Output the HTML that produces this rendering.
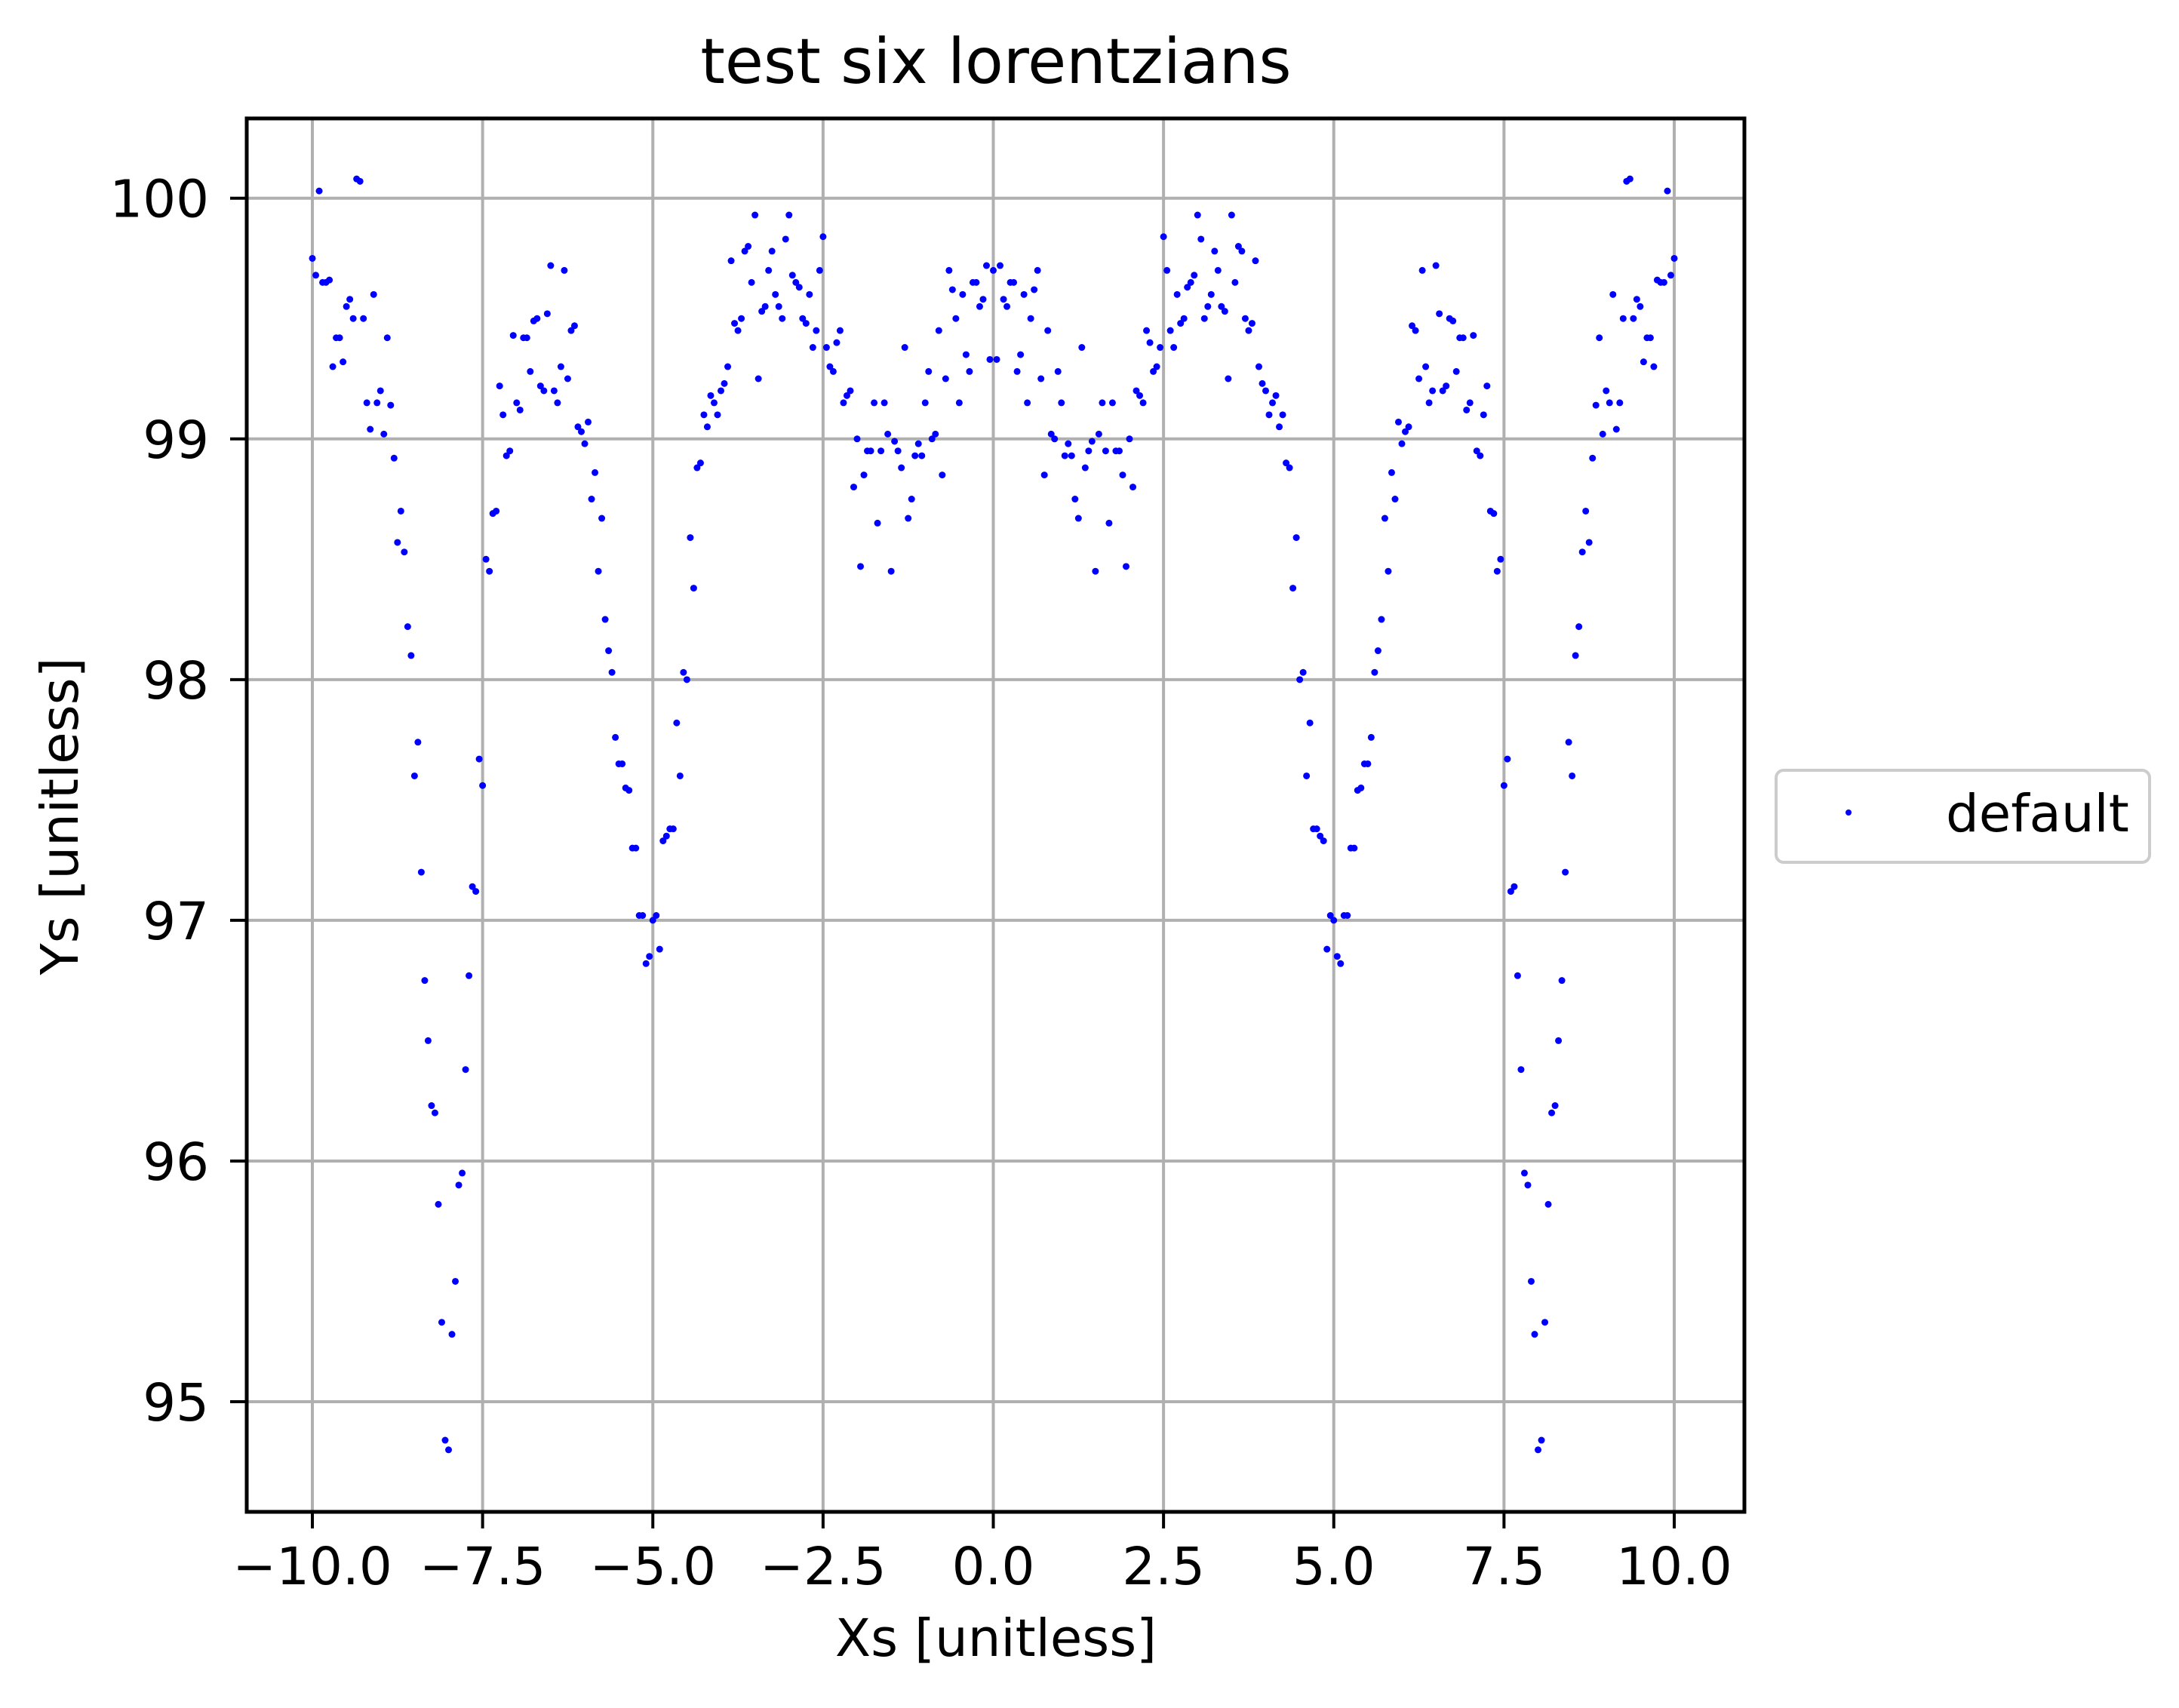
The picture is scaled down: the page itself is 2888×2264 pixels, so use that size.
<!DOCTYPE html>
<html><head><meta charset="utf-8"><style>
html,body{margin:0;padding:0;background:#fff;}
svg{display:block;font-family:"DejaVu Sans","Liberation Sans",sans-serif;}
</style></head><body>
<svg id="chart" width="2888" height="2264" viewBox="0 0 2888 2264">
<rect width="2888" height="2264" fill="#fff"/>
<g id="grid"></g>
<g id="points"></g>
<rect x="327" y="157" width="1985" height="1847" fill="none" stroke="#000" stroke-width="5"/>
<g id="ticks"></g>
<text x="1320" y="110" font-size="83" text-anchor="middle">test six lorentzians</text>
<text x="1320" y="2195" font-size="69" text-anchor="middle">Xs [unitless]</text>
<text transform="translate(103,1082) rotate(-90)" font-size="69" text-anchor="middle">Ys [unitless]</text>
<g>
<rect x="2354" y="1021" width="495" height="122" rx="10" fill="#fff" stroke="#ccc" stroke-width="4"/>
<circle cx="2450" cy="1077" r="4" fill="#0000ff"/>
<text x="2579" y="1102" font-size="69">default</text>
</g>
</svg>
<script>
const xTicks=[-10,-7.5,-5,-2.5,0,2.5,5,7.5,10];
const xTickLabels=["\u221210.0","\u22127.5","\u22125.0","\u22122.5","0.0","2.5","5.0","7.5","10.0"];
const yTicks=[95,96,97,98,99,100];
const yTickLabels=["95","96","97","98","99","100"];
const xs=[-10.0,-9.9,-9.8,-9.7,-9.6,-9.5,-9.4,-9.3,-9.2,-9.1,-9.0,-8.9,-8.8,-8.7,-8.6,-8.5,-8.4,-8.3,-8.2,-8.1,-8.0,-7.9,-7.8,-7.7,-7.6,-7.5,-7.4,-7.3,-7.2,-7.1,-7.0,-6.9,-6.8,-6.7,-6.6,-6.5,-6.4,-6.3,-6.2,-6.1,-6.0,-5.9,-5.8,-5.7,-5.6,-5.5,-5.4,-5.3,-5.2,-5.1,-5.0,-4.9,-4.8,-4.7,-4.6,-4.5,-4.4,-4.3,-4.2,-4.1,-4.0,-3.9,-3.8,-3.7,-3.6,-3.5,-3.4,-3.3,-3.2,-3.1,-3.0,-2.9,-2.8,-2.7,-2.6,-2.5,-2.4,-2.3,-2.2,-2.1,-2.0,-1.9,-1.8,-1.7,-1.6,-1.5,-1.4,-1.3,-1.2,-1.1,-1.0,-0.9,-0.8,-0.7,-0.6,-0.5,-0.4,-0.3,-0.2,-0.1,0.0,0.1,0.2,0.3,0.4,0.5,0.6,0.7,0.8,0.9,1.0,1.1,1.2,1.3,1.4,1.5,1.6,1.7,1.8,1.9,2.0,2.1,2.2,2.3,2.4,2.5,2.6,2.7,2.8,2.9,3.0,3.1,3.2,3.3,3.4,3.5,3.6,3.7,3.8,3.9,4.0,4.1,4.2,4.3,4.4,4.5,4.6,4.7,4.8,4.9,5.0,5.1,5.2,5.3,5.4,5.5,5.6,5.7,5.8,5.9,6.0,6.1,6.2,6.3,6.4,6.5,6.6,6.7,6.8,6.9,7.0,7.1,7.2,7.3,7.4,7.5,7.6,7.7,7.8,7.9,8.0,8.1,8.2,8.3,8.4,8.5,8.6,8.7,8.8,8.9,9.0,9.1,9.2,9.3,9.4,9.5,9.6,9.7,9.8,9.9,10.0];
const ys=[99.75,100.03,99.65,99.3,99.42,99.55,99.5,100.07,99.15,99.6,99.2,99.42,98.92,98.7,98.22,97.6,97.2,96.5,96.2,95.33,94.8,95.5,95.95,96.77,97.12,97.56,98.45,98.7,99.1,98.95,99.15,99.42,99.28,99.5,99.2,99.72,99.15,99.7,99.45,99.05,98.98,98.75,98.45,98.25,98.03,97.65,97.55,97.3,97.02,96.82,97.0,96.88,97.35,97.38,97.6,98.0,98.38,98.9,99.05,99.15,99.2,99.3,99.48,99.5,99.8,99.93,99.53,99.7,99.6,99.5,99.93,99.65,99.5,99.6,99.45,99.84,99.3,99.4,99.15,99.2,99.0,98.85,98.95,98.65,99.15,98.45,98.95,99.38,98.75,98.98,99.15,99.0,99.45,99.25,99.62,99.15,99.35,99.65,99.55,99.72,99.7,99.72,99.55,99.65,99.35,99.15,99.62,99.25,99.45,99.0,99.15,98.98,98.75,99.38,98.95,98.45,99.15,98.65,98.95,98.85,99.0,99.2,99.15,99.4,99.3,99.84,99.45,99.6,99.5,99.65,99.93,99.5,99.6,99.7,99.53,99.93,99.8,99.5,99.48,99.3,99.2,99.15,99.05,98.9,98.38,98.0,97.6,97.38,97.35,96.88,97.0,96.82,97.02,97.3,97.55,97.65,98.03,98.25,98.45,98.75,98.98,99.05,99.45,99.7,99.15,99.72,99.2,99.5,99.28,99.42,99.15,98.95,99.1,98.7,98.45,97.56,97.12,96.77,95.95,95.5,94.8,95.33,96.2,96.5,97.2,97.6,98.22,98.7,98.92,99.42,99.2,99.6,99.15,100.07,99.5,99.55,99.42,99.3,99.65,100.03,99.75];
const xsB=[-9.95,-9.85,-9.75,-9.65,-9.55,-9.45,-9.35,-9.25,-9.15,-9.05,-8.95,-8.85,-8.75,-8.65,-8.55,-8.45,-8.35,-8.25,-8.15,-8.05,-7.95,-7.85,-7.75,-7.65,-7.55,-7.45,-7.35,-7.25,-7.15,-7.05,-6.95,-6.85,-6.75,-6.65,-6.55,-6.45,-6.35,-6.25,-6.15,-6.05,-5.95,-5.85,-5.75,-5.65,-5.55,-5.45,-5.35,-5.25,-5.15,-5.05,-4.95,-4.85,-4.75,-4.65,-4.55,-4.45,-4.35,-4.25,-4.15,-4.05,-3.95,-3.85,-3.75,-3.65,-3.55,-3.45,-3.35,-3.25,-3.15,-3.05,-2.95,-2.85,-2.75,-2.65,-2.55,-2.45,-2.35,-2.25,-2.15,-2.05,-1.95,-1.85,-1.75,-1.65,-1.55,-1.45,-1.35,-1.25,-1.15,-1.05,-0.95,-0.85,-0.75,-0.65,-0.55,-0.45,-0.35,-0.25,-0.15,-0.05,0.05,0.15,0.25,0.35,0.45,0.55,0.65,0.75,0.85,0.95,1.05,1.15,1.25,1.35,1.45,1.55,1.65,1.75,1.85,1.95,2.05,2.15,2.25,2.35,2.45,2.55,2.65,2.75,2.85,2.95,3.05,3.15,3.25,3.35,3.45,3.55,3.65,3.75,3.85,3.95,4.05,4.15,4.25,4.35,4.45,4.55,4.65,4.75,4.85,4.95,5.05,5.15,5.25,5.35,5.45,5.55,5.65,5.75,5.85,5.95,6.05,6.15,6.25,6.35,6.45,6.55,6.65,6.75,6.85,6.95,7.05,7.15,7.25,7.35,7.45,7.55,7.65,7.75,7.85,7.95,8.05,8.15,8.25,8.35,8.45,8.55,8.65,8.75,8.85,8.95,9.05,9.15,9.25,9.35,9.45,9.55,9.65,9.75,9.85,9.95];
const ysB=[99.68,99.65,99.66,99.42,99.32,99.58,100.08,99.5,99.04,99.15,99.02,99.14,98.57,98.53,98.1,97.74,96.75,96.23,95.82,94.84,95.28,95.9,96.38,97.14,97.67,98.5,98.69,99.22,98.93,99.43,99.12,99.42,99.49,99.22,99.52,99.2,99.3,99.25,99.47,99.03,99.07,98.86,98.67,98.12,97.76,97.65,97.54,97.3,97.02,96.85,97.02,97.33,97.38,97.82,98.03,98.59,98.88,99.1,99.18,99.1,99.23,99.74,99.45,99.78,99.65,99.25,99.55,99.78,99.55,99.83,99.68,99.63,99.48,99.38,99.7,99.38,99.28,99.45,99.18,98.8,98.47,98.95,99.15,98.95,99.02,98.99,98.88,98.67,98.93,98.93,99.28,99.02,98.85,99.7,99.5,99.6,99.28,99.65,99.58,99.33,99.33,99.58,99.65,99.28,99.6,99.5,99.7,98.85,99.02,99.28,98.93,98.93,98.67,98.88,98.99,99.02,98.95,99.15,98.95,98.47,98.8,99.18,99.45,99.28,99.38,99.7,99.38,99.48,99.63,99.68,99.83,99.55,99.78,99.55,99.25,99.65,99.78,99.45,99.74,99.23,99.1,99.18,99.1,98.88,98.59,98.03,97.82,97.38,97.33,97.02,96.85,97.02,97.3,97.54,97.65,97.76,98.12,98.67,98.86,99.07,99.03,99.47,99.25,99.3,99.2,99.52,99.22,99.49,99.42,99.12,99.43,98.93,99.22,98.69,98.5,97.67,97.14,96.38,95.9,95.28,94.84,95.82,96.23,96.75,97.74,98.1,98.53,98.57,99.14,99.02,99.15,99.04,99.5,100.08,99.58,99.32,99.42,99.66,99.65,99.68];
const NS="http://www.w3.org/2000/svg";
const X0=327,X1=2312,Y0=157,Y1=2004;
function xS(v){return 414+(v+10)*(2219-414)/20;}
function yS(v){return 262.7+(100-v)*(1858-262.7)/5;}
const grid=document.getElementById('grid'),ticks=document.getElementById('ticks'),pts=document.getElementById('points');
function mk(tag,attrs,parent){const e=document.createElementNS(NS,tag);for(const k in attrs)e.setAttribute(k,attrs[k]);parent.appendChild(e);return e;}
xTicks.forEach((t,i)=>{
  const x=xS(t);
  const g=mk('line',{x1:x,x2:x,y1:Y0,y2:Y1,stroke:'#b0b0b0','stroke-width':4},grid);
  
  
  const tk=mk('line',{x1:x,x2:x,y1:Y1,y2:Y1+22,stroke:'#000','stroke-width':4},ticks);
  
  
  const lb=mk('text',{x:x,y:2100,'font-size':69,'text-anchor':'middle'},ticks);
  lb.textContent=xTickLabels[i];
  
  
});
yTicks.forEach((t,i)=>{
  const y=yS(t);
  const g=mk('line',{x1:X0,x2:X1,y1:y,y2:y,stroke:'#b0b0b0','stroke-width':4},grid);
  
  
  const tk=mk('line',{x1:X0-22,x2:X0,y1:y,y2:y,stroke:'#000','stroke-width':4},ticks);
  
  
  const lb=mk('text',{x:277,y:y+25,'font-size':69,'text-anchor':'end'},ticks);
  lb.textContent=yTickLabels[i];
  
  
});
xs.forEach((v,i)=>{
  const c=mk('circle',{cx:xS(v),cy:yS(ys[i]),r:4.5,fill:'#0000ff'},pts);
  
  
});
xsB.forEach((v,i)=>{
  const c=mk('circle',{cx:xS(v),cy:yS(ysB[i]),r:4.5,fill:'#0000ff'},pts);
  
  
});
</script>
</body></html>
